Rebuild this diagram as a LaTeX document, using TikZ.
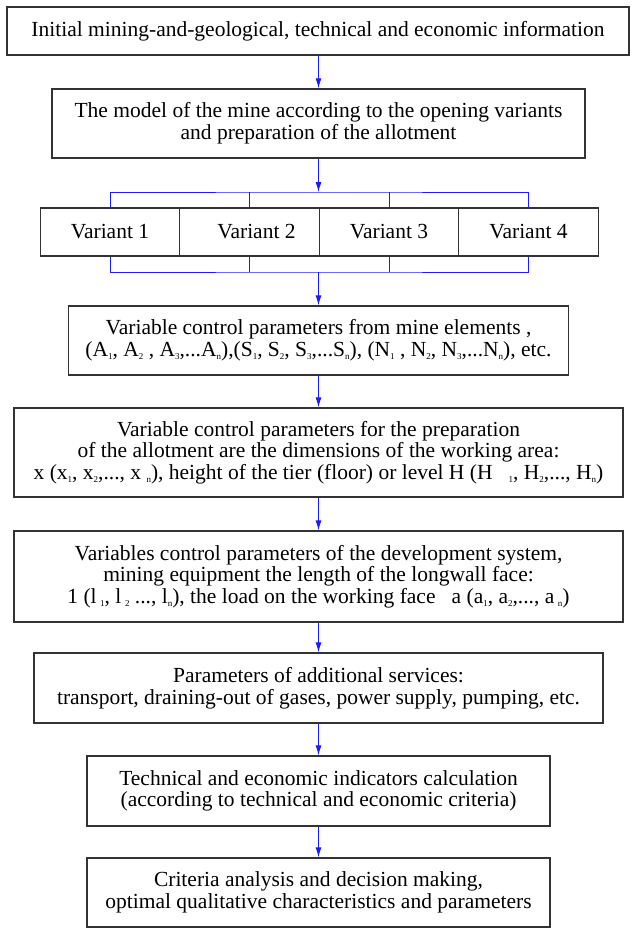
\documentclass[tikz,border=0pt]{standalone}
\usepackage{fontspec}
\setmainfont{Liberation Serif}
\usepackage{tikz}
\usetikzlibrary{arrows.meta,calc}
\definecolor{linkblue}{HTML}{1A1AFF}
\definecolor{boxline}{HTML}{333333}
\newcommand{\lo}[1]{\raisebox{-3bp}{\fontsize{9bp}{9bp}\selectfont #1}}

\begin{document}
\begin{tikzpicture}[
    x=1bp, y=-1bp,
    stage/.style={draw=boxline, line width=1.3bp, rectangle, inner sep=0pt,
                  font=\fontsize{21.5bp}{21.7bp}\selectfont, align=center},
    variant/.style={stage, minimum width=139.5bp, minimum height=48bp},
    flow/.style={-{Latex[length=10bp,width=6bp]}, draw=linkblue, line width=1bp},
    bus/.style={draw=linkblue, line width=1bp}
]
\useasboundingbox (0,0) rectangle (632,929);

% --- boxes ---
\node[stage, minimum width=622bp, minimum height=48bp] (info) at (318,31)
  {Initial mining-and-geological, technical and economic information};
\node[stage, minimum width=533bp, minimum height=69bp] (model) at (318.5,123.5)
  {The model of the mine according to the opening variants\\and preparation of the allotment};

\node[variant] (v1) at (110,232)   {Variant 1};
\node[variant] (v2) at (249.5,232) {\hspace*{14bp}Variant 2};
\node[variant] (v3) at (389,232)   {Variant 3};
\node[variant] (v4) at (528.5,232) {Variant 4};

\node[stage, minimum width=500bp, minimum height=69bp] (params) at (318.5,340.5)
  {Variable control parameters from mine elements ,\\
   (A\lo{1}, A\lo{2} , A\lo{3},...A\lo{n}),(S\lo{1}, S\lo{2}, S\lo{3},...S\lo{n}), (N\lo{1} , N\lo{2}, N\lo{3},...N\lo{n}), etc.};
\node[stage, minimum width=609bp, minimum height=89bp] (allot) at (318.5,452.5)
  {Variable control parameters for the preparation\\
   of the allotment are the dimensions of the working area:\\
   x (x\lo{1}, x\lo{2},..., x \lo{n}), height of the tier (floor) or level H (H \enspace\lo{1}, H\lo{2},..., H\lo{n})};
\node[stage, minimum width=609bp, minimum height=91bp] (devsys) at (318.5,576.5)
  {Variables control parameters of the development system,\\
   mining equipment the length of the longwall face:\\
   1 (l\,\lo{1}, l\,\lo{2} ..., l\lo{n}), the load on the working face \enspace a (a\lo{1}, a\lo{2},..., a\,\lo{n})};
\node[stage, minimum width=569bp, minimum height=70bp] (services) at (318.5,688)
  {Parameters of additional services:\\
   transport, draining-out of gases, power supply, pumping, etc.};
\node[stage, minimum width=463bp, minimum height=70bp] (calc) at (318.5,791)
  {Technical and economic indicators calculation\\
   (according to technical and economic criteria)};
\node[stage, minimum width=463bp, minimum height=69bp] (decide) at (318.5,892.5)
  {Criteria analysis and decision making,\\
   optimal qualitative characteristics and parameters};

% --- bus lines ---
\coordinate (bustop) at (318.5,192);
\coordinate (busbot) at (318.5,272);
\draw[bus] (v1.north) |- (bustop) -| (v4.north);
\draw[bus] (v2.north) -- (v2.north |- bustop);
\draw[bus] (v3.north) -- (v3.north |- bustop);
\draw[bus] (v1.south) |- (busbot) -| (v4.south);
\draw[bus] (v2.south) -- (v2.south |- busbot);
\draw[bus] (v3.south) -- (v3.south |- busbot);

% --- arrows ---
\draw[flow] (info.south) -- (info.south -| model.north) -- (model.north);
\draw[flow] (model.south) -- (bustop);
\draw[flow] (busbot) -- (params.north);
\draw[flow] (params.south) -- (allot.north);
\draw[flow] (allot.south) -- (devsys.north);
\draw[flow] (devsys.south) -- (services.north);
\draw[flow] (services.south) -- (calc.north);
\draw[flow] (calc.south) -- (decide.north);

\end{tikzpicture}
\end{document}
